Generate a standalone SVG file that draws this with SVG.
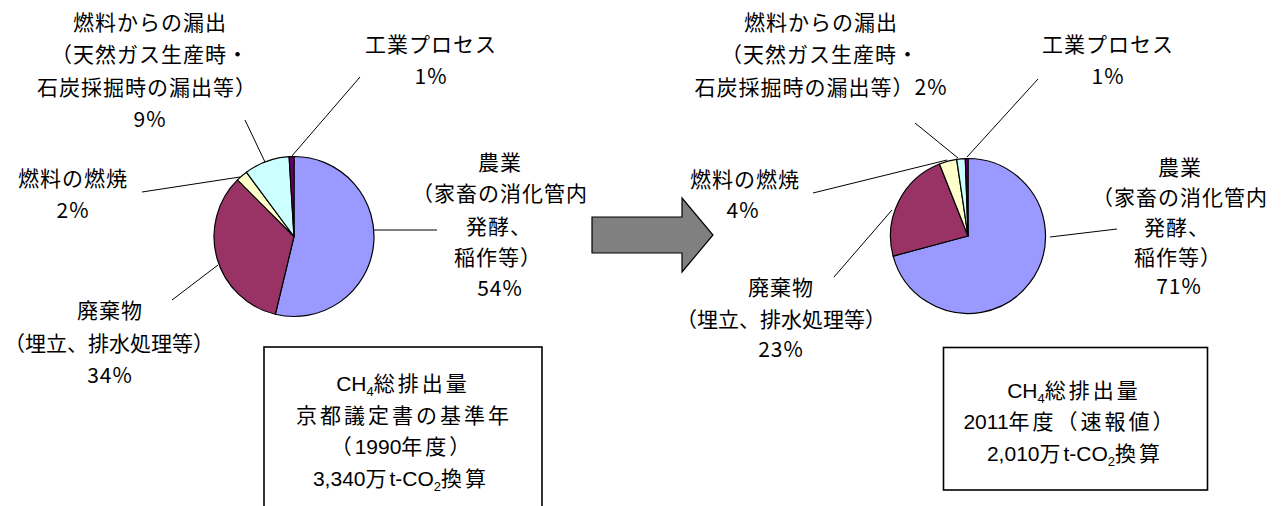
<svg xmlns="http://www.w3.org/2000/svg" width="1281" height="506" viewBox="0 0 1281 506">
<style>
.lbl{font-family:"Noto Sans CJK JP","Noto Sans",sans-serif;font-size:21px;fill:#000;text-anchor:middle;letter-spacing:1px}
.box{font-family:"Liberation Sans","Noto Sans CJK JP",sans-serif;font-size:21px;fill:#000;text-anchor:middle}
.j{letter-spacing:3px}
.sub{font-size:13px}
.sl{stroke:#000;stroke-width:1.2;stroke-linejoin:round}
.lead{stroke:#000;stroke-width:1;fill:none}
.frame{fill:#fff;stroke:#000;stroke-width:1.6}
.agr{fill:#9999FF}.was{fill:#993366}.com{fill:#FFFFCC}.fug{fill:#CCFFFF}.ind{fill:#660066}
</style>
<rect width="1281" height="506" fill="#fff"/>

<g id="pie-1990">
<path class="sl agr" d="M294,236.5 L294,156.5 A80,80 0 1,1 275.33,314.29 Z"/>
<path class="sl was" d="M294,236.5 L275.33,314.29 A80,80 0 0,1 237.43,179.93 Z"/>
<path class="sl com" d="M294,236.5 L237.43,179.93 A80,80 0 0,1 246.42,172.19 Z"/>
<path class="sl fug" d="M294,236.5 L246.42,172.19 A80,80 0 0,1 289.12,156.65 Z"/>
<path class="sl ind" d="M294,236.5 L289.12,156.65 A80,80 0 0,1 294,156.5 Z"/>
</g>

<g id="pie-2011">
<path class="sl agr" d="M968,236 L968,158.5 A77.5,77.5 0 1,1 893.14,256.06 Z"/>
<path class="sl was" d="M968,236 L893.14,256.06 A77.5,77.5 0 0,1 939.47,163.94 Z"/>
<path class="sl com" d="M968,236 L939.47,163.94 A77.5,77.5 0 0,1 956.68,159.33 Z"/>
<path class="sl fug" d="M968,236 L956.68,159.33 A77.5,77.5 0 0,1 965.30,158.55 Z"/>
<path class="sl ind" d="M968,236 L965.30,158.55 A77.5,77.5 0 0,1 968,158.5 Z"/>
</g>

<g id="connectors">
<line class="lead" x1="374" y1="230" x2="437" y2="230"/>
<line class="lead" x1="291" y1="157" x2="360" y2="77"/>
<line class="lead" x1="265" y1="162" x2="245" y2="120"/>
<line class="lead" x1="240" y1="177" x2="142" y2="192"/>
<line class="lead" x1="218" y1="265" x2="172" y2="300"/>
<line class="lead" x1="1050" y1="237" x2="1117" y2="229"/>
<line class="lead" x1="967" y1="157" x2="1038" y2="79"/>
<line class="lead" x1="958" y1="158" x2="915" y2="123"/>
<line class="lead" x1="947" y1="160" x2="813" y2="193"/>
<line class="lead" x1="892" y1="210" x2="834" y2="277"/>
</g>

<g id="arrow">
<path d="M592,217 L682,217 L682,198 L713,235 L682,272 L682,253 L592,253 Z" fill="#808080" stroke="#000" stroke-width="1.2"/>
</g>

<g id="label-1990-fugitive">
<text class="lbl" x="150" y="30">燃料からの漏出</text>
<text class="lbl" x="150" y="62">（天然ガス生産時・</text>
<text class="lbl" x="147" y="95">石炭採掘時の漏出等）</text>
<text class="lbl" x="150" y="127">9%</text>
</g>
<g id="label-1990-industrial">
<text class="lbl" x="431" y="52">工業プロセス</text>
<text class="lbl" x="431" y="84">1%</text>
</g>
<g id="label-1990-agriculture">
<text class="lbl" x="500" y="170">農業</text>
<text class="lbl" x="500" y="201">（家畜の消化管内</text>
<text class="lbl" x="499" y="234">発酵、</text>
<text class="lbl" x="498" y="265">稲作等）</text>
<text class="lbl" x="500" y="296">54%</text>
</g>
<g id="label-1990-combustion">
<text class="lbl" x="73" y="186">燃料の燃焼</text>
<text class="lbl" x="73" y="218">2%</text>
</g>
<g id="label-1990-waste">
<text class="lbl" x="110" y="318">廃棄物</text>
<text class="lbl" x="109" y="351" style="letter-spacing:0">（埋立、排水処理等）</text>
<text class="lbl" x="110" y="383">34%</text>
</g>

<g id="label-2011-fugitive">
<text class="lbl" x="821" y="30">燃料からの漏出</text>
<text class="lbl" x="820" y="62">（天然ガス生産時・</text>
<text class="lbl" x="821" y="95">石炭採掘時の漏出等）2%</text>
</g>
<g id="label-2011-industrial">
<text class="lbl" x="1108" y="52">工業プロセス</text>
<text class="lbl" x="1108" y="84">1%</text>
</g>
<g id="label-2011-agriculture">
<text class="lbl" x="1180" y="175">農業</text>
<text class="lbl" x="1180" y="205">（家畜の消化管内</text>
<text class="lbl" x="1177" y="235">発酵、</text>
<text class="lbl" x="1178" y="265">稲作等）</text>
<text class="lbl" x="1179" y="294">71%</text>
</g>
<g id="label-2011-combustion">
<text class="lbl" x="745" y="187">燃料の燃焼</text>
<text class="lbl" x="743" y="218">4%</text>
</g>
<g id="label-2011-waste">
<text class="lbl" x="781" y="295">廃棄物</text>
<text class="lbl" x="781" y="327" style="letter-spacing:0">（埋立、排水処理等）</text>
<text class="lbl" x="781" y="357">23%</text>
</g>

<g id="box-1990">
<rect class="frame" x="264" y="347" width="278" height="175"/>
<text class="box" x="403" y="391">CH<tspan class="sub" dy="5">4</tspan><tspan class="j" dy="-5">総排出量</tspan></text>
<text class="box j" x="404" y="423">京都議定書の基準年</text>
<text class="box" x="402" y="454"><tspan class="j">（</tspan>1990<tspan class="j">年度）</tspan></text>
<text class="box" x="401" y="486">3,340<tspan class="j">万</tspan>t-CO<tspan class="sub" dy="5">2</tspan><tspan class="j" dy="-5">換算</tspan></text>
</g>

<g id="box-2011">
<rect class="frame" x="943.5" y="347.5" width="264" height="142.5"/>
<text class="box" x="1074" y="398">CH<tspan class="sub" dy="5">4</tspan><tspan class="j" dy="-5">総排出量</tspan></text>
<text class="box" x="1070" y="429">2011<tspan class="j">年度（速報値）</tspan></text>
<text class="box" x="1075" y="461">2,010<tspan class="j">万</tspan>t-CO<tspan class="sub" dy="5">2</tspan><tspan class="j" dy="-5">換算</tspan></text>
</g>
</svg>
